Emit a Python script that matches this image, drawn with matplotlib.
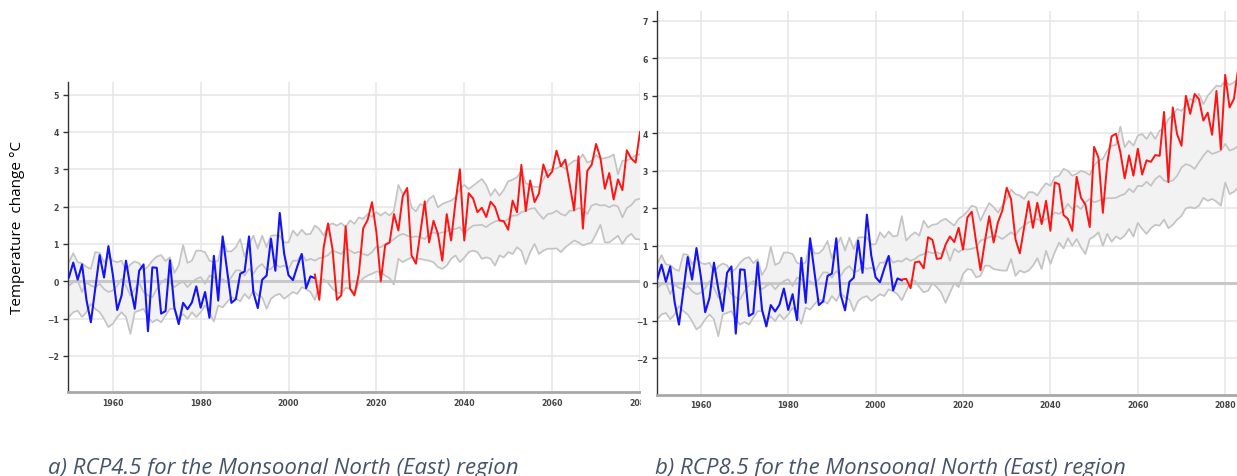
import numpy as np
import matplotlib
matplotlib.use('Agg')
import matplotlib.pyplot as plt
from matplotlib.patches import Rectangle

# observed anomaly 1950-2006 (blue)
obs_years = np.arange(1950, 2007)
obs = [0.10, 0.50, 0.04, 0.45, -0.50, -1.10, -0.20, 0.70, 0.10, 0.94,
       0.18, -0.77, -0.38, 0.55, -0.15, -0.74, 0.28, 0.45, -1.34, 0.37,
       0.36, -0.87, -0.80, 0.56, -0.70, -1.15, -0.58, -0.75, -0.57, -0.14,
       -0.71, -0.29, -0.98, 0.68, -0.52, 1.20, 0.30, -0.58, -0.48, 0.20,
       0.26, 1.20, -0.30, -0.72, 0.04, 0.15, 1.14, 0.28, 1.83, 0.74,
       0.16, 0.03, 0.40, 0.73, -0.19, 0.13, 0.08]

# model spread, historical part 1950-2005 (same in both panels)
hist_years = np.arange(1950, 2006)
hist_upper = [0.51, 0.75, 0.51, 0.48, 0.38, 0.33, 0.78, 0.76, 0.51, 0.66,
              0.54, 0.51, 0.55, 0.29, 0.45, 0.53, 0.48, 0.29, 0.39, 0.55,
              0.66, 0.70, 0.54, 0.64, 0.22, 0.42, 0.97, 0.49, 0.55, 0.82,
              0.82, 0.78, 0.55, 0.51, 0.55, 1.13, 0.80, 0.80, 0.91, 1.13,
              0.66, 1.00, 1.22, 0.87, 1.22, 0.91, 1.22, 1.23, 1.22, 1.04,
              1.04, 1.36, 1.22, 1.38, 1.25, 1.27]
hist_mid = [-0.12, -0.03, 0.02, -0.29, -0.03, -0.12, -0.16, -0.07, -0.21, -0.29,
            -0.25, -0.12, 0.06, -0.12, -0.38, -0.21, -0.04, -0.29, -0.38, -0.43,
            -0.21, -0.04, 0.06, -0.03, -0.16, -0.07, -0.01, -0.16, -0.03, 0.06,
            0.11, -0.07, 0.15, 0.11, -0.01, 0.06, -0.04, 0.11, 0.29, 0.29,
            0.15, 0.33, 0.20, 0.38, 0.46, 0.30, 0.33, 0.46, 0.38, 0.42,
            0.33, 0.55, 0.55, 0.73, 0.55, 0.60]
hist_low = [-0.96, -0.83, -0.79, -0.96, -0.83, -0.61, -0.74, -0.83, -1.01, -1.23,
            -1.14, -0.96, -0.83, -0.96, -1.41, -0.83, -0.79, -0.74, -0.96, -1.10,
            -1.03, -1.10, -0.92, -0.74, -0.74, -1.01, -0.88, -1.01, -0.83, -0.96,
            -0.83, -0.65, -0.83, -1.08, -0.65, -0.70, -0.56, -0.43, -0.47, -0.54,
            -0.34, -0.47, -0.25, -0.38, -0.43, -0.74, -0.47, -0.38, -0.34, -0.47,
            -0.38, -0.29, -0.34, -0.16, -0.21, -0.29]

# RCP4.5, 2006-2080
rcp45_years = np.arange(2006, 2081)
rcp45_upper = [1.49, 1.40, 1.22, 1.49, 1.55, 1.49, 1.56, 1.45, 1.63, 1.54,
               1.71, 1.67, 1.80, 1.73, 1.85, 1.76, 1.85, 1.76, 1.89, 2.58,
               2.34, 2.47, 1.98, 1.87, 2.07, 2.00, 2.21, 2.29, 1.98, 2.07,
               2.12, 2.16, 2.25, 2.47, 2.58, 2.47, 2.56, 2.65, 2.74, 2.58,
               2.29, 2.47, 2.29, 2.45, 2.68, 2.72, 2.79, 2.96, 2.63, 2.57,
               2.53, 2.52, 2.72, 2.96, 3.01, 3.02, 3.10, 3.01, 3.14, 3.23,
               3.24, 3.40, 3.18, 3.23, 3.38, 3.28, 3.30, 3.33, 3.40, 2.86,
               3.23, 3.23, 3.30, 3.37, 3.40]
rcp45_mid = [0.55, 0.62, 0.64, 0.70, 0.82, 0.78, 0.73, 0.88, 0.82, 0.75,
             0.79, 0.73, 0.69, 0.78, 0.93, 0.91, 1.00, 1.04, 1.13, 1.22,
             1.27, 1.22, 1.18, 1.20, 1.18, 1.13, 1.27, 1.31, 1.27, 1.31,
             1.33, 1.40, 1.40, 1.45, 1.27, 1.40, 1.49, 1.50, 1.51, 1.45,
             1.54, 1.60, 1.63, 1.58, 1.67, 1.76, 1.76, 1.85, 1.89, 1.94,
             1.96, 1.80, 1.67, 1.80, 1.82, 1.89, 1.80, 1.76, 1.89, 1.89,
             1.96, 1.94, 1.80, 2.03, 2.07, 2.03, 2.04, 1.98, 2.04, 2.00,
             1.71, 1.96, 2.04, 2.18, 2.21]
rcp45_low = [-0.50, -0.10, 0.05, -0.05, -0.20, -0.30, -0.33, -0.18, -0.20, -0.30,
             -0.05, 0.08, 0.15, 0.20, 0.26, 0.24, 0.15, 0.08, -0.09, 0.60,
             0.51, 0.58, 0.64, 0.60, 0.60, 0.57, 0.55, 0.51, 0.38, 0.33,
             0.42, 0.60, 0.69, 0.51, 0.63, 0.78, 0.82, 0.78, 0.60, 0.64,
             0.60, 0.42, 0.69, 0.64, 0.78, 0.73, 0.91, 0.82, 0.46, 0.78,
             1.00, 0.73, 0.82, 0.87, 0.87, 0.88, 0.78, 0.91, 1.00, 1.09,
             1.04, 0.96, 1.00, 1.04, 1.27, 1.51, 1.04, 1.04, 1.13, 1.22,
             1.00, 1.18, 1.27, 1.13, 1.12]
rcp45_model = [0.18, -0.50, 0.91, 1.55, 0.87, -0.50, -0.38, 1.47, -0.20, -0.38,
               0.20, 1.42, 1.64, 2.12, 1.31, 0.00, 0.97, 1.04, 1.80, 1.36,
               2.28, 2.50, 0.69, 0.47, 1.30, 2.14, 1.04, 1.62, 1.27, 0.55,
               1.80, 1.09, 2.12, 3.00, 1.09, 2.36, 2.22, 1.85, 1.97, 1.72,
               2.13, 1.99, 1.63, 1.61, 1.38, 2.16, 1.85, 3.12, 1.88, 2.70,
               2.12, 2.35, 3.13, 2.79, 2.94, 3.50, 3.08, 3.26, 2.60, 1.90,
               3.35, 1.41, 2.96, 3.12, 3.68, 3.30, 2.48, 2.90, 2.19, 2.73,
               2.44, 3.51, 3.29, 3.18, 4.00]

# RCP8.5, 2006-2083
rcp85_years = np.arange(2006, 2084)
rcp85_upper = [1.79, 1.14, 1.27, 1.36, 1.27, 1.67, 1.49, 1.56, 1.58, 1.67,
               1.72, 1.63, 1.54, 1.72, 1.80, 1.92, 2.07, 2.03, 1.67, 1.92,
               2.14, 2.03, 1.89, 2.07, 2.25, 2.50, 2.38, 2.34, 2.25, 2.43,
               2.43, 2.34, 2.52, 2.67, 2.60, 2.83, 2.87, 3.05, 3.00, 2.87,
               2.92, 3.00, 2.96, 2.89, 3.14, 3.27, 3.32, 3.54, 3.67, 3.69,
               4.18, 3.63, 3.80, 3.67, 3.94, 3.98, 3.85, 4.03, 3.85, 4.07,
               4.12, 4.38, 4.49, 4.65, 4.60, 4.74, 4.92, 4.83, 5.05, 4.78,
               5.00, 5.14, 5.27, 5.25, 5.40, 5.29, 5.36, 5.45]
rcp85_mid = [0.58, 0.67, 0.60, 0.65, 0.74, 0.78, 0.84, 0.80, 0.83, 0.78,
             0.96, 0.60, 0.92, 0.83, 0.92, 0.90, 0.92, 0.96, 1.14, 1.18,
             1.23, 1.27, 1.25, 1.18, 1.27, 1.36, 1.27, 1.45, 1.54, 1.63,
             1.67, 1.72, 1.63, 1.72, 1.76, 1.89, 1.85, 1.94, 2.12, 1.98,
             2.07, 1.98, 2.16, 2.25, 2.16, 2.20, 2.25, 2.27, 2.27, 2.28,
             2.34, 2.38, 2.52, 2.43, 2.60, 2.59, 2.71, 2.60, 2.78, 2.87,
             2.74, 2.71, 2.74, 2.87, 3.09, 3.18, 3.14, 3.05, 3.23, 3.40,
             3.54, 3.45, 3.49, 3.54, 3.72, 3.54, 3.58, 3.67]
rcp85_low = [-0.45, -0.20, 0.07, 0.07, -0.10, -0.24, -0.20, 0.00, -0.10, -0.25,
             -0.52, -0.25, 0.00, -0.10, 0.25, 0.38, 0.36, 0.16, 0.20, 0.47,
             0.47, 0.38, 0.36, 0.34, 0.34, 0.65, 0.20, 0.34, 0.29, 0.34,
             0.47, 0.67, 0.38, 0.87, 0.52, 0.83, 1.09, 0.93, 1.20, 1.00,
             1.18, 0.96, 0.78, 1.18, 1.25, 1.36, 1.00, 1.32, 1.11, 1.25,
             1.18, 1.27, 1.45, 1.25, 1.61, 1.45, 1.32, 1.47, 1.56, 1.54,
             1.70, 1.47, 1.56, 1.70, 1.80, 2.00, 2.03, 2.00, 2.07, 2.28,
             2.20, 2.25, 2.18, 2.07, 2.69, 2.38, 2.44, 2.56]
rcp85_model = [0.10, 0.12, -0.13, 0.56, 0.58, 0.40, 1.23, 1.16, 0.65, 0.67,
               1.03, 1.25, 1.10, 1.48, 0.90, 1.76, 1.91, 1.10, 0.35, 1.11,
               1.79, 1.09, 1.63, 1.94, 2.55, 2.24, 1.18, 0.80, 1.50, 2.19,
               1.48, 2.15, 1.58, 2.20, 1.40, 2.69, 2.64, 1.82, 1.72, 1.40,
               2.84, 2.28, 2.10, 1.50, 3.64, 3.35, 1.88, 3.20, 3.92, 3.99,
               3.50, 2.80, 3.41, 2.87, 3.59, 2.90, 3.28, 3.24, 3.42, 3.40,
               4.57, 2.70, 4.69, 3.97, 3.67, 5.00, 4.52, 5.05, 4.91, 4.34,
               4.55, 3.96, 5.13, 3.57, 5.56, 4.69, 4.92, 5.75]

x_ticks = [1960, 1980, 2000, 2020, 2040, 2060, 2080]
ylabel = 'Temperature  change °C'
caption_a = 'a) RCP4.5 for the Monsoonal North (East) region'
caption_b = 'b) RCP8.5 for the Monsoonal North (East) region'

W, H = 1237, 477


def px_box(left, top, right, bottom):
    # pixel box -> figure fraction [x0, y0, w, h]
    return [left / W, 1 - bottom / H, (right - left) / W, (bottom - top) / H]


def draw_panel(ax, fut_years, up, mid, low, model, xlim, ylim, yticks):
    yrs = np.concatenate([hist_years, fut_years])
    upper = np.concatenate([hist_upper, up])
    middle = np.concatenate([hist_mid, mid])
    lower = np.concatenate([hist_low, low])

    ax.fill_between(yrs, lower, upper, color='#f2f2f2', lw=0, zorder=1)
    for s in (upper, middle, lower):
        ax.plot(yrs, s, color='#c4c4c4', lw=1.25, zorder=2)
    ax.axhline(0, color='#c8c8c8', lw=2.2, zorder=1.5)

    ax.plot(obs_years, obs, color='#1414f5', lw=1.5, zorder=3)
    ax.plot(fut_years, model, color='#ff1414', lw=1.4, zorder=3)

    ax.set_xlim(*xlim)
    ax.set_ylim(*ylim)
    ax.set_xticks(x_ticks)
    ax.set_yticks(yticks)
    ax.grid(True, color='#e6e6e6', lw=1.1, zorder=0)
    ax.set_axisbelow(True)

    for side in ('top', 'right'):
        ax.spines[side].set_visible(False)
    ax.spines['left'].set_color('#333333')
    ax.spines['left'].set_linewidth(1.0)
    ax.spines['bottom'].set_color('#a8a8a8')
    ax.spines['bottom'].set_linewidth(2.0)

    ax.tick_params(axis='x', length=0, pad=4, labelsize=5.6, labelcolor='#444444')
    ax.tick_params(axis='y', length=3.5, width=1, color='#333333', pad=3,
                   labelsize=5.6, labelcolor='#444444')
    for lab in ax.get_xticklabels() + ax.get_yticklabels():
        lab.set_fontweight('bold')
        lab.set_family('DejaVu Sans')


fig = plt.figure(figsize=(W / 100, H / 100), dpi=100)
fig.patch.set_facecolor('white')

ax1 = fig.add_axes(px_box(68, 83, 640, 393))
draw_panel(ax1, rcp45_years, rcp45_upper, rcp45_mid, rcp45_low, rcp45_model,
           (1949.8, 2079.4), (-2.97, 5.34), range(-2, 6))
ax1.set_zorder(0)

# the second screenshot sits on top of the first one
fig.add_artist(Rectangle((640.5 / W, 1 - 415 / H), 1 - 640.5 / W, 415 / H,
                         transform=fig.transFigure, facecolor='white',
                         edgecolor='none', zorder=1))

ax2 = fig.add_axes(px_box(656.7, 11.7, 1237, 395.7))
draw_panel(ax2, rcp85_years, rcp85_upper, rcp85_mid, rcp85_low, rcp85_model,
           (1949.9, 2082.7), (-2.97, 7.27), range(-2, 8))
ax2.set_zorder(2)

fig.text(18 / W, 1 - 228 / H, ylabel, rotation=90, ha='center', va='center',
         fontsize=11, family='Open Sans', color='#000000')

fig.text(48 / W, 1 - 474 / H, caption_a, ha='left', va='baseline', fontsize=16,
         style='italic', family='Open Sans', color='#44546a')
fig.text(655 / W, 1 - 474 / H, caption_b, ha='left', va='baseline', fontsize=16,
         style='italic', family='Open Sans', color='#44546a')

fig.savefig('out.png', dpi=100, facecolor='white')
